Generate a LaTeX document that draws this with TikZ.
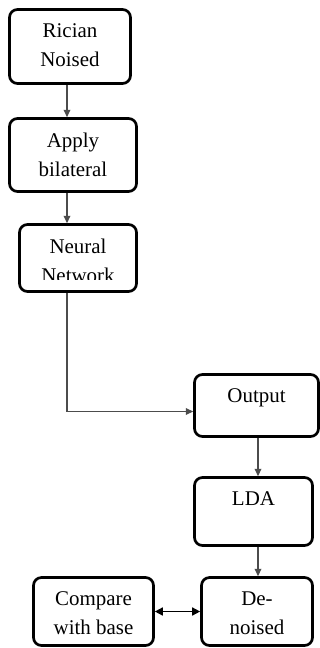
\documentclass[tikz,border=0pt]{standalone}
\usepackage{fontspec}
\setmainfont{Liberation Serif}
\usepackage{tikz}
\usetikzlibrary{arrows.meta}
\tikzset{
  box/.style={draw, line width=2pt, rounded corners=6pt, inner sep=0pt},
  boxtext/.style={anchor=north, inner sep=0pt, align=center,
    font=\fontsize{15.7}{21.75}\selectfont, yshift=-11.6pt},
  flow/.style={draw=black!70, line width=1pt, -{Triangle[length=5.5pt,width=5pt]}},
  both/.style={draw=black, line width=1.2pt,
    {Triangle[length=6pt,width=6pt]}-{Triangle[length=6pt,width=6pt]}}
}

\begin{document}
\begin{tikzpicture}[x=0.75pt, y=-0.75pt]
\useasboundingbox (0,0) rectangle (320,648);
\coordinate (lspine) at (67,0);
\coordinate (rspine) at (258,0);

% boxes
\path (70,46.5) node[box, minimum width=90.75pt, minimum height=55.5pt] (rician) {};
\path (73,155) node[box, minimum width=95.25pt, minimum height=54.75pt] (bilateral) {};
\path (78,258) node[box, minimum width=87.75pt, minimum height=50.25pt] (network) {};
\path (256.5,405.5) node[box, minimum width=93pt, minimum height=46.5pt] (output) {};
\path (253.5,511.5) node[box, minimum width=88.5pt, minimum height=51pt] (lda) {};
\path (257,611.5) node[box, minimum width=83.25pt, minimum height=51pt] (denoised) {};
\path (93.5,611.5) node[box, minimum width=90pt, minimum height=51pt] (compare) {};

% texts
\path (rician.north) node[boxtext] (ricianT) {Rician\\Noised};
\path (bilateral.north) node[boxtext] (bilateralT) {Apply\\bilateral};
\begin{scope}
\clip (0,0) rectangle (320,279.5);
\path (network.north) node[boxtext] (networkT) {Neural\\Network};
\end{scope}
\path (output.north) node[boxtext] (outputT) {Output};
\path (lda.north) node[boxtext] (ldaT) {LDA};
\path (denoised.north) node[boxtext] (denoisedT) {De-\\noised};
\path (compare.north) node[boxtext] (compareT) {Compare\\with base};

% connectors
\draw[flow] (rician.south -| lspine) -- (bilateral.north -| lspine);
\draw[flow] (bilateral.south -| lspine) -- (network.north -| lspine);
\draw[flow] (network.south -| lspine) |- ([yshift=-4.5pt]output.west);
\draw[flow] (output.south -| rspine) -- (lda.north -| rspine);
\draw[flow] (lda.south -| rspine) -- (denoised.north -| rspine);
\draw[both] (compare.east) -- (denoised.west);
\end{tikzpicture}
\end{document}
